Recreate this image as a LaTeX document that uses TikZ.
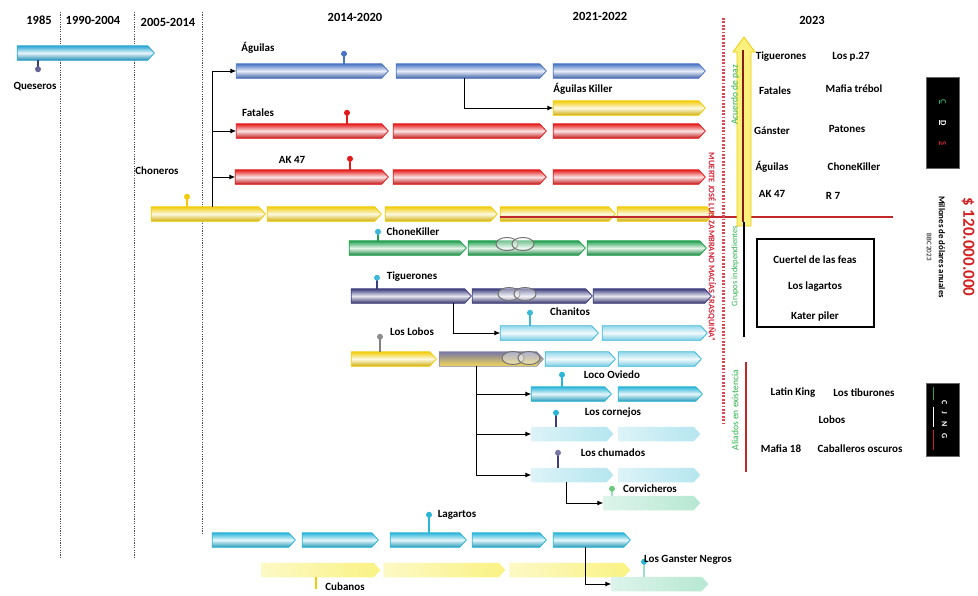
\documentclass[tikz,border=0pt]{standalone}
\usepackage{fontspec}
\setmainfont{Carlito}
\usepackage{xcolor}
\usetikzlibrary{positioning,calc,shapes.symbols,arrows.meta}

\definecolor{quesCyan}{HTML}{2BA6D4}
\definecolor{aguBlue}{HTML}{4A74C4}
\definecolor{fatRed}{HTML}{E31B1B}
\definecolor{choYel}{HTML}{F2CC0C}
\definecolor{ckGreen}{HTML}{1FA04C}
\definecolor{tigNavy}{HTML}{3D3D7E}
\definecolor{chaCyan}{HTML}{3DB8D8}
\definecolor{lagCyan}{HTML}{2BB5D8}
\definecolor{fadeCyan}{HTML}{9CDDEA}
\definecolor{fadeGreen}{HTML}{9EE0C4}
\definecolor{fadeYel}{HTML}{F8EE5A}
\definecolor{pazGreen}{HTML}{2DB34A}
\definecolor{deathRed}{HTML}{D42438}
\definecolor{moneyRed}{HTML}{D42020}
\definecolor{lineRed}{HTML}{C0282A}
\definecolor{flagGreen}{HTML}{2E9E5A}
\definecolor{flagRed}{HTML}{C02030}

\begin{document}
\begin{tikzpicture}[x=1pt,y=-1pt,
  seg/.style={signal,signal to=east,signal pointer angle=95,minimum height=14.5pt,inner sep=0pt,outer sep=0pt,line width=0.8pt},
  tube/.style={seg,draw=#1,top color=#1,bottom color=#1!85!black,middle color=#1!12},
  ltube/.style={seg,draw=#1,top color=#1!55,bottom color=#1!70,middle color=#1!8},
  fade/.style={seg,draw=none,left color=#1!35,right color=#1!75},
  lbl/.style={font=\bfseries\fontsize{11}{13}\selectfont,inner sep=1pt},
  hdr/.style={font=\bfseries\fontsize{12.5}{14}\selectfont,inner sep=1pt},
  side/.style={font=\fontsize{9.5}{11}\selectfont,text=pazGreen,rotate=90,inner sep=1pt},
  conn/.style={draw,line width=1pt,-{Latex[length=6pt,width=5pt]}},
  pinl/.style={draw=#1,line width=1.2pt},
  pinhd/.style={circle,fill=#1,inner sep=0pt,minimum size=6pt},
  period/.style={draw=black!70,line width=0.9pt,dash pattern=on 1.2pt off 1.2pt},
  chain/.style={draw=black!55,line width=1pt,fill=white,fill opacity=0.4},
]
\path[use as bounding box,fill=white] (0,0) rectangle (978,595);

% periods
\node[hdr] (h85) at (39,20) {1985};
\node[hdr] (h90) at (93,20) {1990-2004};
\node[hdr] (h05) at (168,22) {2005-2014};
\node[hdr] (h14) at (355,17) {2014-2020};
\node[hdr] (h21) at (600,16) {2021-2022};
\node[hdr] (h23) at (812,20) {2023};
\draw[period] (60,12) -- (60,557);
\draw[period] (134,12) -- (134,557);
\draw[period] (202,12) -- (202,533);

% Queseros
\node[tube=quesCyan,minimum width=137pt] (que1) at (82.5,53) {};
\draw[pinl=tigNavy] ([xshift=-44.5pt]que1.south) -- ++(0,9) node[pinhd=tigNavy!80]{};
\node[lbl] (lque) at (35,87) {Queseros};

% Aguilas, Fatales, AK 47
\foreach \n/\a/\b in {1/233/385,2/393/543,3/550/702}
  \node[tube=aguBlue,minimum width={(\b-\a)*1pt}] (agu\n) at ({(\a+\b)/2},71) {};
\foreach \n/\a/\b in {1/233/385,2/390/543,3/550/702}
  \node[tube=fatRed,minimum width={(\b-\a)*1pt}] (fat\n) at ({(\a+\b)/2},131) {};
\foreach \n/\a/\b in {1/232/385,2/390/543,3/550/702}
  \node[tube=fatRed,minimum width={(\b-\a)*1pt}] (ak\n) at ({(\a+\b)/2},177) {};
\node[tube=choYel,minimum width=152pt] (agk1) at (626,108) {};
\draw[pinl=aguBlue] ([xshift=35pt]agu1.north) -- ++(0,-10) node[pinhd=aguBlue]{};
\draw[pinl=fatRed] ([xshift=38pt]fat1.north) -- ++(0,-11) node[pinhd=fatRed]{};
\draw[pinl=fatRed] ([xshift=41.5pt]ak1.north) -- ++(0,-11) node[pinhd=fatRed]{};
\node[lbl] (lagu) at (258,48) {Águilas};
\node[lbl] (lagk) at (583,89) {Águilas Killer};
\node[lbl] (lfat) at (258,113) {Fatales};
\node[lbl] (lak) at (292,160) {AK 47};

% Choneros
\foreach \n/\a/\b in {1/148/262,2/264/378,3/382/494,4/497/612,5/614/710}
  \node[tube=choYel,minimum width={(\b-\a)*1pt}] (cho\n) at ({(\a+\b)/2},214) {};
\draw[pinl=choYel] ([xshift=-18pt]cho1.north) -- ++(0,-10) node[pinhd=choYel]{};
\node[lbl] (lcho) at (157,171) {Choneros};
\draw[lineRed,line width=1.2pt] ([yshift=-3pt]cho4.west) -- (893,217);
\draw[conn] ([xshift=7pt]cho1.north) |- (agu1.west);
\draw[conn] ([xshift=7pt]cho1.north) |- (fat1.west);
\draw[conn] ([xshift=7pt]cho1.north) |- (ak1.west);
\draw[conn] ([xshift=-4pt]agu2.south) |- (agk1.west);

% ChoneKiller, Tiguerones, Chanitos
\foreach \n/\a/\b in {1/346/463,2/465/582,3/584/703}
  \node[tube=ckGreen,minimum width={(\b-\a)*1pt}] (ck\n) at ({(\a+\b)/2},248) {};
\foreach \n/\a/\b in {1/348/468,2/469/589,3/590/708}
  \node[tube=tigNavy,minimum width={(\b-\a)*1pt}] (tig\n) at ({(\a+\b)/2},296) {};
\foreach \n/\a/\b in {1/497/595,2/599/704}
  \node[ltube=chaCyan,minimum width={(\b-\a)*1pt}] (chn\n) at ({(\a+\b)/2},333) {};
\draw[pinl=ckGreen] ([xshift=-26.5pt]ck1.north) -- ++(0,-9) node[pinhd=chaCyan]{};
\draw[pinl=tigNavy] ([xshift=-31pt]tig1.north) -- ++(0,-11) node[pinhd=chaCyan]{};
\draw[pinl=chaCyan] ([xshift=-16pt]chn1.north) -- ++(0,-13) node[pinhd=chaCyan]{};
\node[lbl] (lck) at (413,232) {ChoneKiller};
\node[lbl] (ltig) at (412,277) {Tiguerones};
\node[lbl] (lchn) at (570,312) {Chanitos};
\draw[conn] ([xshift=45pt]tig1.south) |- (chn1.west);

% Los Lobos and its branches
\node[tube=choYel,minimum width=85pt] (lob1) at (390.5,359) {};
\node[seg,draw=tigNavy!60,top color=tigNavy!70,middle color=choYel!30,bottom color=choYel!70,minimum width=104pt] (lob2) at (488,359) {};
\foreach \n/\a/\b in {3/542/612,4/615/698}
  \node[ltube=chaCyan,minimum width={(\b-\a)*1pt}] (lob\n) at ({(\a+\b)/2},359) {};
\draw[pinl=black!50] ([xshift=-10.5pt]lob1.north) -- ++(0,-15) node[pinhd=black!45]{};
\node[lbl] (llob) at (412,332) {Los Lobos};
\foreach \n/\a/\b in {1/528/608,2/615/699}
  \node[tube=lagCyan,minimum width={(\b-\a)*1pt}] (loc\n) at ({(\a+\b)/2},394) {};
\foreach \n/\a/\b in {1/528/610,2/615/697}
  \node[fade=fadeCyan,minimum width={(\b-\a)*1pt}] (cor\n) at ({(\a+\b)/2},434) {};
\foreach \n/\a/\b in {1/528/610,2/615/697}
  \node[fade=fadeCyan,minimum width={(\b-\a)*1pt}] (chu\n) at ({(\a+\b)/2},475) {};
\node[fade=fadeGreen,minimum width=97pt] (cov1) at (648.5,503) {};
\draw[pinl=lagCyan] ([xshift=-6pt]loc1.north) -- ++(0,-12) node[pinhd=lagCyan]{};
\draw[pinl=tigNavy] ([xshift=-13pt]cor1.north) -- ++(0,-14) node[pinhd=lagCyan]{};
\draw[pinl=tigNavy] ([xshift=-11pt]chu1.north) -- ++(0,-15) node[pinhd=tigNavy!70]{};
\draw[pinl=fadeGreen] ([xshift=-36.5pt]cov1.north) -- ++(0,-7) node[pinhd=pazGreen!70]{};
\node[lbl] (lloc) at (612,375) {Loco Oviedo};
\node[lbl] (lcor) at (613,413) {Los cornejos};
\node[lbl] (lchu) at (613,453) {Los chumados};
\node[lbl] (lcov) at (650,489) {Corvicheros};
\draw[conn] ([xshift=-12pt]lob2.south) |- (loc1.west);
\draw[conn] ([xshift=-12pt]lob2.south) |- (cor1.west);
\draw[conn] ([xshift=-12pt]lob2.south) |- (chu1.west);
\draw[conn] ([xshift=-3pt]chu1.south) |- (cov1.west);

% chains
\foreach \cx/\cy in {515/244,517/294,521/358}{
  \draw[chain] (\cx-8,\cy) ellipse (11pt and 6.5pt);
  \draw[chain] (\cx+8,\cy) ellipse (11pt and 6.5pt);
}

% Lagartos, Cubanos, Los Ganster Negros
\foreach \n/\a/\b in {1/258/377,2/380/502,3/506/627}
  \node[fade=fadeYel,minimum width={(\b-\a)*1pt}] (cub\n) at ({(\a+\b)/2},570) {};
\foreach \n/\a/\b in {1/209/292,2/299/375,3/387/463,4/469/543,5/550/627}
  \node[tube=lagCyan,minimum width={(\b-\a)*1pt}] (lag\n) at ({(\a+\b)/2},540) {};
\node[fade=fadeGreen,minimum width=97pt] (gan1) at (656.5,584) {};
\draw[pinl=lagCyan] ([xshift=4pt]lag3.north) -- ++(0,-18) node[pinhd=lagCyan]{};
\draw[pinl=choYel] ([xshift=-1.5pt]cub1.south) -- ++(0,12);
\draw[pinl=fadeGreen] ([xshift=-12.5pt]gan1.north) -- ++(0,-15) node[pinhd=lagCyan]{};
\node[lbl] (llag) at (457,515) {Lagartos};
\node[lbl] (lcub) at (345,587) {Cubanos};
\node[lbl] (lgan) at (688,560) {Los Ganster Negros};
\draw[conn] ([xshift=-3pt]lag5.south) |- (gan1.west);

% 2023
\draw[deathRed!85,line width=3pt,dash pattern=on 1.8pt off 1.6pt] (723,18) -- (723,425);
\node[rotate=-90,text=deathRed,font=\bfseries\fontsize{8.5}{10}\selectfont,inner sep=0pt] (muerte) at (712,247) {MUERTE JOSÉ LUIS ZAMBRANO MACÍAS ``RASQUIÑA''};
\filldraw[fill=fadeYel!80,draw=choYel,line width=0.8pt] (737,226) -- (737,52) -- (733,52) -- (744,37) -- (755,52) -- (751,52) -- (751,226) -- cycle;
\draw[lineRed!70!black,line width=1.2pt] (743,50) -- (743,222);
\draw[line width=1.2pt] (744,222) -- (744,337);
\draw[lineRed,line width=1.2pt] (746,362) -- (746,472);
\node[side] (paz) at (735,95) {Acuerdo de paz};
\node[side,font=\fontsize{8.5}{10}\selectfont] (indep) at (735,266) {Grupos independientes};
\node[side] (alia) at (735,410) {Aliados en existencia};

\foreach \nm/\px/\py/\tx in {tigu/781/57/Tiguerones, lp27/851/57/Los p.27,
    fata/775/91/Fatales, mafi/854/89/Mafia trébol,
    gans/772/131/Gánster, pato/847/129/Patones,
    agui/772/167/Águilas, chok/854/167/ChoneKiller,
    ak47/772/194/AK 47, rsie/833/196/R 7}
  \node[lbl] (\nm) at (\px,\py) {\tx};

\node[draw,line width=1.2pt,minimum width=117pt,minimum height=88pt,inner sep=0pt] (indbox) at (815.5,283) {};
\node[lbl] (cuar) at (815,260) {Cuertel de las feas};
\node[lbl] (lagt) at (815,287) {Los lagartos};
\node[lbl] (kate) at (815,316) {Kater piler};

\foreach \nm/\px/\py/\tx in {latk/793/393/Latin King, tibu/864/393/Los tiburones,
    lobo/832/420/Lobos, mf18/781/449/Mafia 18, caba/860/449/Caballeros oscuros}
  \node[lbl] (\nm) at (\px,\py) {\tx};

% cartels and money
\node[fill=black,draw=black!60,minimum width=33pt,minimum height=91pt,inner sep=0pt] (cds) at (942.5,122.5) {};
\node[rotate=-90,text=white,font=\bfseries\fontsize{8.5}{10}\selectfont] (cdstxt) at (cds.center) {\textcolor{flagGreen}{\underline{C}}\hspace{16pt}\underline{D}\hspace{16pt}\textcolor{flagRed}{\underline{S}}};
\node[fill=black,draw=black!60,minimum width=33pt,minimum height=73pt,inner sep=0pt] (cjng) at (942.5,419.5) {};
\node[rotate=-90,text=white,font=\bfseries\fontsize{8}{10}\selectfont] (cjngtxt) at ([xshift=2pt]cjng.center) {C\hspace{7pt}J\hspace{7pt}N\hspace{7pt}G};
\draw[flagGreen,line width=1pt] (933,387) -- (933,400);
\draw[white,line width=1pt] (933,407) -- (933,427);
\draw[flagRed,line width=1pt] (933,430) -- (933,450);
\node[rotate=-90,align=center,font=\bfseries\fontsize{8.8}{10}\selectfont] (mill) at (936,247) {Millones de dólares anuales\\[2pt]{\mdseries\fontsize{7}{9}\selectfont BBC 2023}};
\node[rotate=-90,text=moneyRed,font=\bfseries\fontsize{17}{19}\selectfont] (money) at (968,247) {\$ 120.000.000};
\end{tikzpicture}
\end{document}
